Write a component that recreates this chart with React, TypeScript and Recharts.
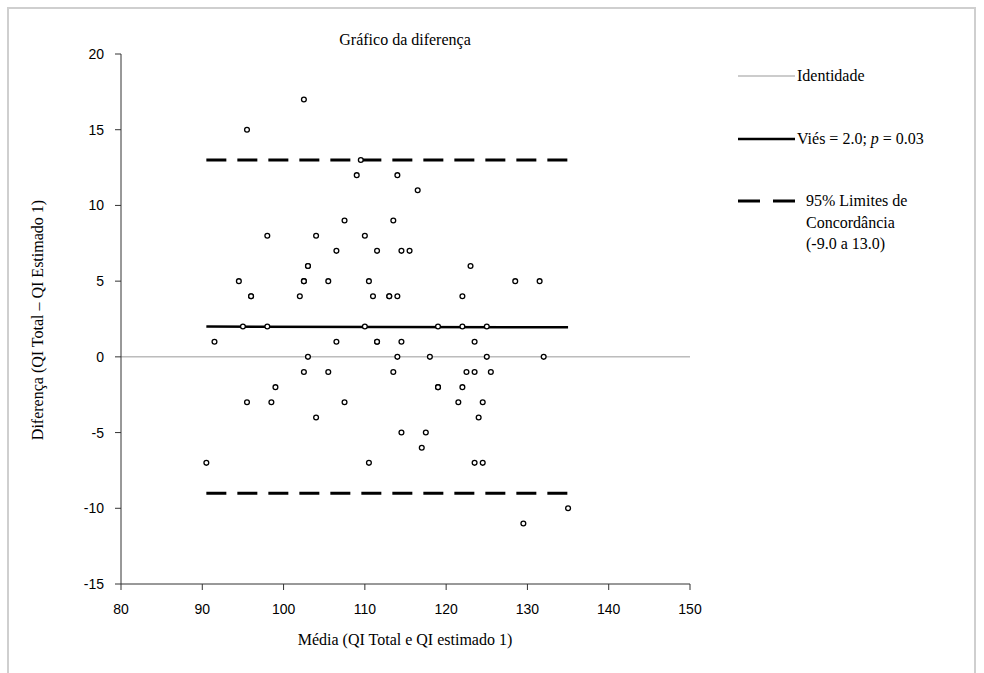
import React from 'react';
import { ScatterChart, Scatter, XAxis, YAxis, ReferenceLine } from 'recharts';

const meanValues = [
  102.5,
  95.5,
  109.5,
  109, 114,
  116.5,
  107.5, 113.5,
  98, 104, 110,
  106.5, 111.5, 114.5, 115.5,
  103, 103, 123,
  94.5, 102.5, 102.5, 105.5, 110.5, 128.5, 131.5,
  96, 96, 102, 111, 113, 113, 114, 122,
  95, 98, 110, 119, 122, 125,
  91.5, 106.5, 111.5, 111.5, 114.5, 123.5,
  103, 114, 118, 125, 132,
  102.5, 105.5, 113.5, 122.5, 123.5, 125.5,
  99, 119, 119, 122,
  95.5, 98.5, 107.5, 121.5, 124.5,
  104, 124,
  114.5, 117.5,
  117,
  90.5, 110.5, 123.5, 124.5,
  135,
  129.5,
];

const diffValues = [
  17,
  15,
  13,
  12, 12,
  11,
  9, 9,
  8, 8, 8,
  7, 7, 7, 7,
  6, 6, 6,
  5, 5, 5, 5, 5, 5, 5,
  4, 4, 4, 4, 4, 4, 4, 4,
  2, 2, 2, 2, 2, 2,
  1, 1, 1, 1, 1, 1,
  0, 0, 0, 0, 0,
  -1, -1, -1, -1, -1, -1,
  -2, -2, -2, -2,
  -3, -3, -3, -3, -3,
  -4, -4,
  -5, -5,
  -6,
  -7, -7, -7, -7,
  -10,
  -11,
];

const xTicks = [80, 90, 100, 110, 120, 130, 140, 150];
const yTicks = [-15, -10, -5, 0, 5, 10, 15, 20];

const identityValue = 0;
const biasStart = { x: 90.5, y: 2.0 };
const biasEnd = { x: 135, y: 1.95 };
const limitRange = [90.5, 135];
const upperLimit = 13.0;
const lowerLimit = -9.0;

const points = meanValues.map((m, i) => ({ x: m, y: diffValues[i] }));

const serif = '"Liberation Serif", "Times New Roman", serif';
const sans = '"Liberation Sans", Arial, sans-serif';

const Marker = (props: any) => {
  const { cx, cy } = props;
  if (cx == null || cy == null) return null;
  return <circle cx={cx} cy={cy} r={2.4} fill="#fff" stroke="#000" strokeWidth={1.3} />;
};

const abs = (left: number, top: number, extra: any = {}) => ({
  position: 'absolute' as const,
  left,
  top,
  ...extra,
});

export default function App() {
  return (
    <div style={{ position: 'absolute', left: 0, top: 0, width: 984, height: 673, overflow: 'hidden', background: '#fff' }}>
      <div
        style={{
          position: 'absolute',
          left: 7,
          top: 7,
          width: 969,
          height: 700,
          boxSizing: 'border-box',
          borderTop: '2px solid #cfcfcf',
          borderLeft: '2px solid #cfcfcf',
          borderRight: '2px solid #cfcfcf',
        }}
      />
      <div style={abs(0, 0)}>
        <ScatterChart width={984} height={673} margin={{ top: 54, right: 294, left: 61, bottom: 49 }}>
          <XAxis
            type="number"
            dataKey="x"
            domain={[80, 150]}
            ticks={xTicks}
            interval={0}
            height={40}
            axisLine={{ stroke: '#333', strokeWidth: 1 }}
            tickLine={{ stroke: '#333', strokeWidth: 1 }}
            tickSize={6}
            tickMargin={14}
            tick={{ fill: '#000', fontSize: 14, fontFamily: sans }}
            allowDataOverflow
          />
          <YAxis
            type="number"
            dataKey="y"
            domain={[-15, 20]}
            ticks={yTicks}
            interval={0}
            width={60}
            axisLine={{ stroke: '#333', strokeWidth: 1 }}
            tickLine={{ stroke: '#333', strokeWidth: 1 }}
            tickSize={6}
            tickMargin={11}
            tick={{ fill: '#000', fontSize: 14, fontFamily: sans }}
            allowDataOverflow
          />
          <ReferenceLine y={identityValue} stroke="#999" strokeWidth={1} ifOverflow="extendDomain" />
          <ReferenceLine
            segment={[{ x: limitRange[0], y: upperLimit }, { x: limitRange[1], y: upperLimit }]}
            stroke="#000"
            strokeWidth={3}
            strokeDasharray="20 11"
          />
          <ReferenceLine
            segment={[{ x: limitRange[0], y: lowerLimit }, { x: limitRange[1], y: lowerLimit }]}
            stroke="#000"
            strokeWidth={3}
            strokeDasharray="20 11"
          />
          <ReferenceLine
            segment={[biasStart, biasEnd]}
            stroke="#000"
            strokeWidth={2.5}
          />
          <Scatter data={points} shape={<Marker />} isAnimationActive={false} />
        </ScatterChart>
      </div>

      <div style={abs(255, 30, { width: 300, textAlign: 'center', fontFamily: serif, fontSize: 16, lineHeight: '20px', color: '#000' })}>
        Gráfico da diferença
      </div>

      <div style={abs(205, 630, { width: 400, textAlign: 'center', fontFamily: serif, fontSize: 16, lineHeight: '20px', color: '#000' })}>
        Média (QI Total e QI estimado 1)
      </div>

      <div
        style={abs(38, 320, {
          transform: 'translate(-50%, -50%) rotate(-90deg)',
          whiteSpace: 'nowrap',
          fontFamily: serif,
          fontSize: 16,
          lineHeight: '20px',
          color: '#000',
        })}
      >
        Diferença (QI Total – QI Estimado 1)
      </div>

      <svg style={abs(736, 60)} width={62} height={160}>
        <line x1={2} y1={16} x2={59} y2={16} stroke="#999" strokeWidth={1} />
        <line x1={2} y1={79} x2={59} y2={79} stroke="#000" strokeWidth={2.5} />
        <line x1={2} y1={141} x2={24} y2={141} stroke="#000" strokeWidth={3} />
        <line x1={37} y1={141} x2={59} y2={141} stroke="#000" strokeWidth={3} />
      </svg>

      <div style={abs(797, 66, { fontFamily: serif, fontSize: 16, lineHeight: '20px', color: '#000', whiteSpace: 'nowrap' })}>
        Identidade
      </div>
      <div style={abs(797, 129, { fontFamily: serif, fontSize: 16, lineHeight: '20px', color: '#000', whiteSpace: 'nowrap' })}>
        Viés = 2.0; <i>p</i> = 0.03
      </div>
      <div style={abs(806, 190, { fontFamily: serif, fontSize: 16, lineHeight: '21.5px', color: '#000', whiteSpace: 'nowrap' })}>
        95% Limites de
        <br />
        Concordância
        <br />
        (-9.0 a 13.0)
      </div>
    </div>
  );
}
